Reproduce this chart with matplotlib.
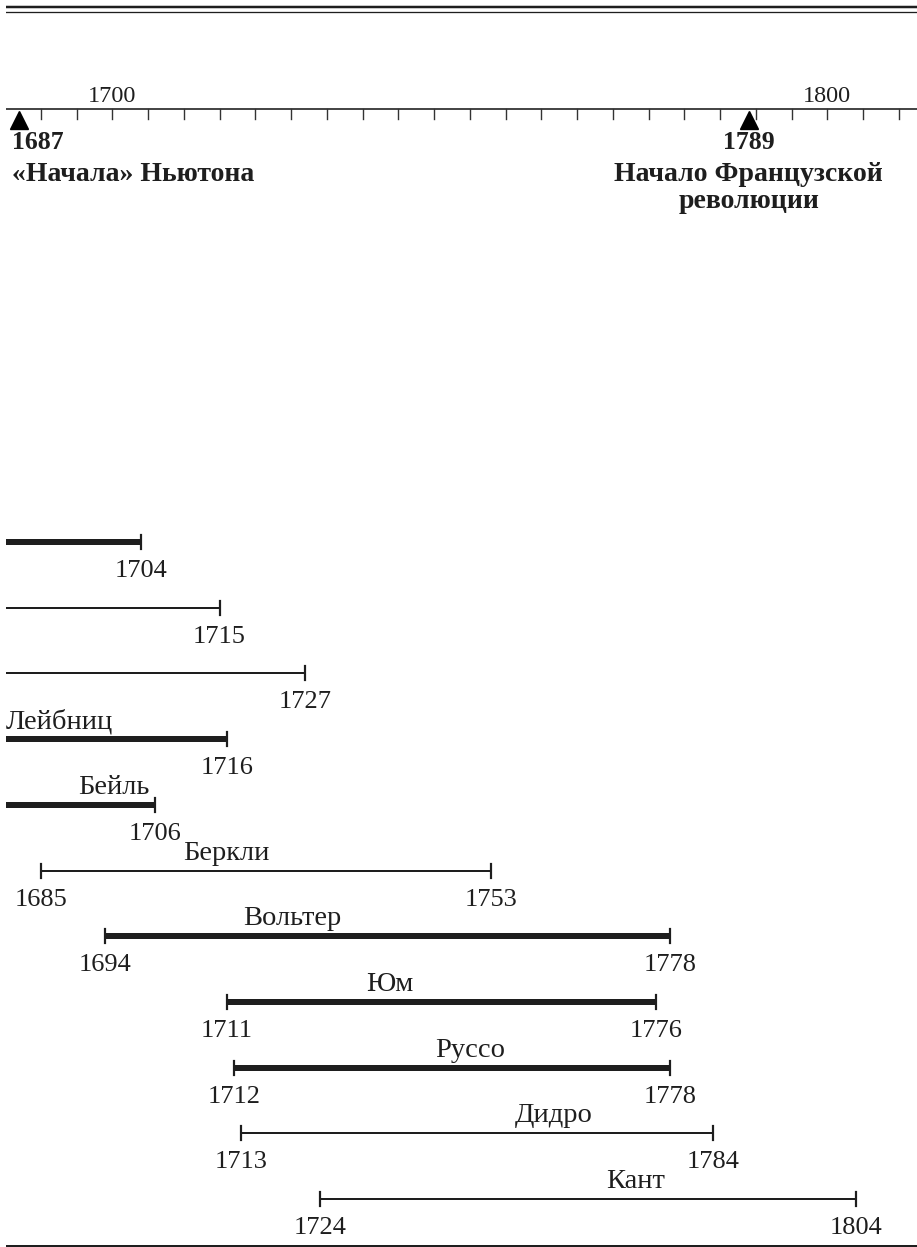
import numpy as np
import matplotlib
matplotlib.use('Agg')
import matplotlib.pyplot as plt

plt.rcParams['font.family'] = ['Liberation Serif', 'DejaVu Serif']

# philosophers, top to bottom
names = ['', '', '', 'Лейбниц', 'Бейль', 'Беркли', 'Вольтер', 'Юм', 'Руссо', 'Дидро', 'Кант']
born = [1632, 1638, 1643, 1646, 1647, 1685, 1694, 1711, 1712, 1713, 1724]
died = [1704, 1715, 1727, 1716, 1706, 1753, 1778, 1776, 1778, 1784, 1804]
# where the bar starts on the scale (drawn 5 yrs late)
bar_start = [1637, 1643, 1648, 1651, 1652, 1690, 1699, 1716, 1717, 1718, 1729]
thick = [True, False, False, True, True, False, True, True, True, False, False]
name_x = [None, None, None, 1692.6, 1700.2, 1716, 1725.2, 1738.8, 1750, 1761.7, 1773.2]

# events on the time axis
event_year = [1687, 1789]
event_text = ['«Начала» Ньютона', 'Начало Французской\nреволюции']

tick_years = np.arange(1690, 1811, 5)
tick_labels = {1700: '1700', 1800: '1800'}

W, H = 917, 1247
px_year = 7.15   # pixels per year
x1700 = 112.3    # pixel of year 1700
left = 6

fig = plt.figure(figsize=(W / 100, H / 100), dpi=100)
ax = fig.add_axes([left / W, 0, (W - left) / W, 1])
ax.set_xlim(1700 - (x1700 - left) / px_year, 1700 + (W - x1700) / px_year)
ax.set_ylim(H, 0)
ax.axis('off')

ink = '#1e1e1e'
lw = 0.72  # points per pixel

# rules at top and bottom
ax.axhline(7, color=ink, lw=2.5 * lw)
ax.axhline(11.5, color=ink, lw=1.3 * lw)
ax.axhline(1245.5, color=ink, lw=2 * lw)

# time axis
axis_y = 109
ax.axhline(axis_y, color='#333333', lw=1.8 * lw)
for t in tick_years:
    ax.plot([t, t], [axis_y, axis_y + 10], color='#333333', lw=1.4 * lw)
    if t in tick_labels:
        ax.text(t, 102, tick_labels[t], ha='center', va='baseline', fontsize=17.5, color=ink)

for i, (yr, txt) in enumerate(zip(event_year, event_text)):
    ax.plot(yr, 119.5, marker='^', ms=13.5, color='black', mec='black')
    if i == 0:
        x = yr - 1.0
        ha = 'left'
    else:
        x = yr
        ha = 'center'
    ax.text(x, 149, str(yr), ha=ha, va='baseline', fontsize=18.5, fontweight='bold', color=ink)
    lines = txt.split('\n')
    for j, ln in enumerate(lines):
        ax.text(x, 181 + 27 * j, ln, ha=ha, va='baseline', fontsize=20, fontweight='bold', color=ink)

# life bars
y0, dy = 542, 65.7
xmin = ax.get_xlim()[0]
for i in range(len(names)):
    y = y0 + i * dy
    w = 6 if thick[i] else 2
    ax.plot([bar_start[i], died[i]], [y, y], color=ink, lw=w * lw, solid_capstyle='butt')
    ax.plot([died[i], died[i]], [y - 7, y + 7], color=ink, lw=2.2 * lw)
    ax.text(died[i], y + 35, str(died[i]), ha='center', va='baseline', fontsize=19, color=ink)
    if bar_start[i] > xmin:
        ax.plot([bar_start[i], bar_start[i]], [y - 7, y + 7], color=ink, lw=2.2 * lw)
        ax.text(bar_start[i], y + 35, str(born[i]), ha='center', va='baseline', fontsize=19, color=ink)
    if names[i]:
        ax.text(name_x[i], y - 11, names[i], ha='center', va='baseline', fontsize=20.5, color=ink)

fig.savefig('out.png', dpi=100)
